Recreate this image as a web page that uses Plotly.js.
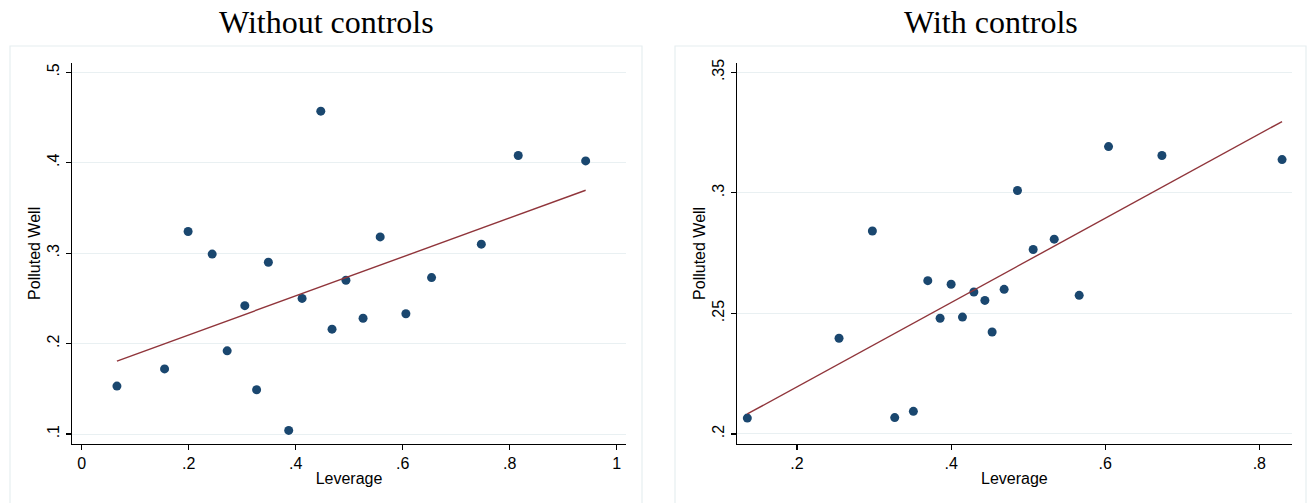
<!DOCTYPE html>
<html>
<head>
<meta charset="utf-8">
<script src="https://cdn.plot.ly/plotly-3.0.1.min.js"></script>
<style>html,body{margin:0;padding:0;background:#fff;}#chart{width:1307px;height:503px;}</style>
</head>
<body>
<div id="chart"></div>
<script>
// Panel titles
const panelTitles = ["Without controls", "With controls"];
const xLabel = "Leverage";
const yLabel = "Polluted Well";

// Left panel: Without controls
const levA = [0.066, 0.155, 0.199, 0.244, 0.272, 0.305, 0.327, 0.349, 0.387, 0.412,
              0.447, 0.468, 0.494, 0.526, 0.558, 0.606, 0.654, 0.747, 0.816, 0.942];
const wellA = [0.153, 0.172, 0.324, 0.299, 0.192, 0.242, 0.149, 0.290, 0.104, 0.250,
               0.457, 0.216, 0.270, 0.228, 0.318, 0.233, 0.273, 0.310, 0.408, 0.402];
// Fitted values (linear fit) at the ends of the data range
const fitLevA = [0.066, 0.942];
const fitWellA = [0.1807, 0.3696];

// Right panel: With controls
const levB = [0.1355, 0.2545, 0.2978, 0.3268, 0.351, 0.3697, 0.3857, 0.400, 0.4147, 0.4295,
              0.4438, 0.4532, 0.4688, 0.4861, 0.5065, 0.5338, 0.5662, 0.6043, 0.6736, 0.8295];
const wellB = [0.2066, 0.2397, 0.2842, 0.2068, 0.2094, 0.2636, 0.248, 0.2621, 0.2485, 0.2589,
               0.2554, 0.2423, 0.260, 0.301, 0.2765, 0.2808, 0.2575, 0.3192, 0.3155, 0.3138];
const fitLevB = [0.1355, 0.8295];
const fitWellB = [0.2083, 0.3296];

// Tick labels
const xTicksA = [0, 0.2, 0.4, 0.6, 0.8, 1];
const xTickTextA = ["0", ".2", ".4", ".6", ".8", "1"];
const yTicksA = [0.1, 0.2, 0.3, 0.4, 0.5];
const yTickTextA = [".1", ".2", ".3", ".4", ".5"];
const xTicksB = [0.2, 0.4, 0.6, 0.8];
const xTickTextB = [".2", ".4", ".6", ".8"];
const yTicksB = [0.2, 0.25, 0.3, 0.35];
const yTickTextB = [".2", ".25", ".3", ".35"];

const navy = "#1a476f";
const maroon = "#90353b";
const gridC = "#e9f0f2";
const sans = "Liberation Sans, Arial, sans-serif";
const serif = "Liberation Serif, Times New Roman, serif";

const traces = [
  { x: levA, y: wellA, type: "scatter", mode: "markers", xaxis: "x", yaxis: "y",
    marker: { color: navy, size: 9 } },
  { x: fitLevA, y: fitWellA, type: "scatter", mode: "lines", xaxis: "x", yaxis: "y",
    line: { color: maroon, width: 1.4 } },
  { x: levB, y: wellB, type: "scatter", mode: "markers", xaxis: "x2", yaxis: "y2",
    marker: { color: navy, size: 9 } },
  { x: fitLevB, y: fitWellB, type: "scatter", mode: "lines", xaxis: "x2", yaxis: "y2",
    line: { color: maroon, width: 1.4 } }
];

const W = 1307, H = 503;
const px = v => v / W, py = v => (H - v) / H;

const xCommon = {
  showline: true, linecolor: "#000", linewidth: 1.2, ticks: "outside", ticklen: 5,
  tickcolor: "#000", tickwidth: 1.2, showgrid: false, zeroline: false,
  tickfont: { family: sans, size: 16, color: "#000" }, tickmode: "array",
  title: { text: xLabel, font: { family: sans, size: 16, color: "#000" }, standoff: 1 }
};
const yCommon = {
  showline: true, linecolor: "#000", linewidth: 1.2, ticks: "outside", ticklen: 5,
  tickcolor: "#000", tickwidth: 1.2, showgrid: true, gridcolor: gridC, gridwidth: 1,
  zeroline: false, tickangle: -90, tickmode: "array",
  tickfont: { family: sans, size: 16, color: "#000" },
  title: { text: yLabel, font: { family: sans, size: 16, color: "#000" }, standoff: 0 }
};

const layout = {
  width: W, height: H, showlegend: false,
  paper_bgcolor: "#fff", plot_bgcolor: "#fff",
  margin: { l: 0, r: 0, t: 0, b: 0 },
  xaxis: Object.assign({}, xCommon, { domain: [px(72), px(626)], range: [-0.018, 1.0174],
    tickvals: xTicksA, ticktext: xTickTextA, anchor: "y" }),
  yaxis: Object.assign({}, yCommon, { domain: [py(444), py(62.7)], range: [0.089, 0.5106],
    tickvals: yTicksA, ticktext: yTickTextA, anchor: "x" }),
  xaxis2: Object.assign({}, xCommon, { domain: [px(737), px(1291.7)], range: [0.1221, 0.842],
    tickvals: xTicksB, ticktext: xTickTextB, anchor: "y2" }),
  yaxis2: Object.assign({}, yCommon, { domain: [py(444), py(62.7)], range: [0.19585, 0.354],
    tickvals: yTicksB, ticktext: yTickTextB, anchor: "x2" }),
  shapes: [
    { type: "rect", xref: "paper", yref: "paper", x0: px(10), x1: px(642), y0: -0.05, y1: py(46),
      line: { color: "#e6eef0", width: 1.2 }, fillcolor: "rgba(0,0,0,0)", layer: "below" },
    { type: "rect", xref: "paper", yref: "paper", x0: px(675), x1: px(1306), y0: -0.05, y1: py(46),
      line: { color: "#e6eef0", width: 1.2 }, fillcolor: "rgba(0,0,0,0)", layer: "below" }
  ],
  annotations: [
    { text: panelTitles[0], xref: "paper", yref: "paper", x: px(326), y: py(22),
      xanchor: "center", yanchor: "middle", showarrow: false,
      font: { family: serif, size: 32, color: "#000" } },
    { text: panelTitles[1], xref: "paper", yref: "paper", x: px(991), y: py(22),
      xanchor: "center", yanchor: "middle", showarrow: false,
      font: { family: serif, size: 32, color: "#000" } }
  ]
};

Plotly.newPlot("chart", traces, layout, { displayModeBar: false, staticPlot: true });
</script>
</body>
</html>
